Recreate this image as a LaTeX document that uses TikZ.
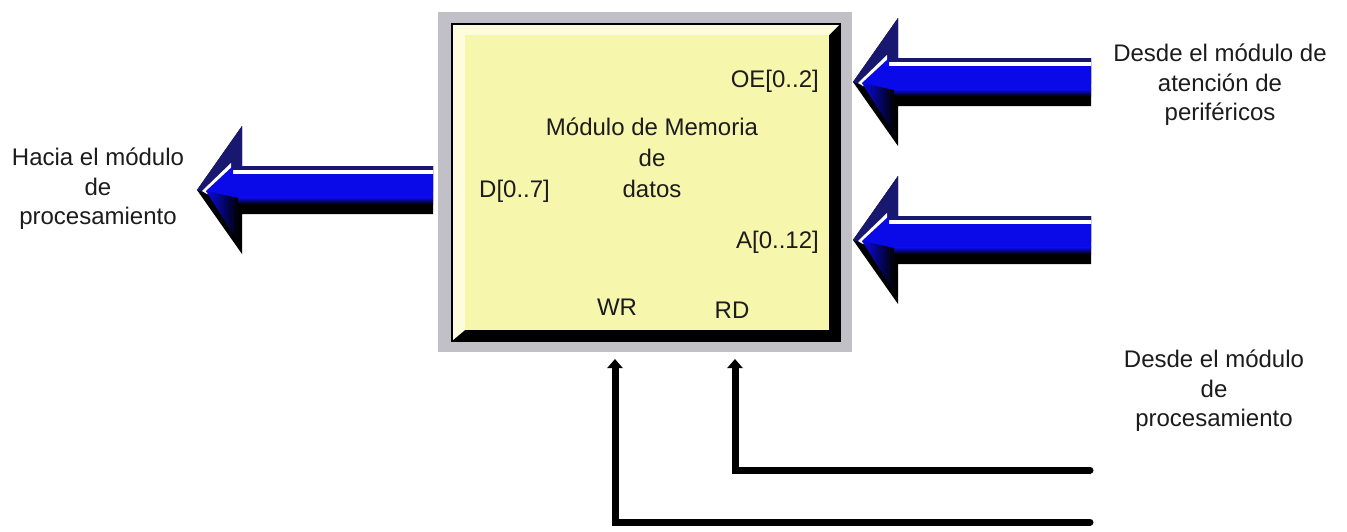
\documentclass[tikz,border=0pt]{standalone}
\usepackage{fontspec}
\setmainfont{Liberation Sans}
\usetikzlibrary{arrows.meta}

\definecolor{framegray}{RGB}{192,192,198}
\definecolor{faceyellow}{RGB}{246,246,172}
\definecolor{bevellight}{RGB}{253,253,222}
\definecolor{busblue}{RGB}{10,10,232}
\definecolor{busnavy}{RGB}{24,24,112}
\definecolor{inktext}{RGB}{28,28,28}

\tikzset{
  lbl/.style={font=\fontsize{24}{29.5}\selectfont, text=inktext, inner sep=0pt, align=center},
  sig/.style={line width=7pt, draw=black, line join=miter, line cap=round,
              -{Triangle[width=15pt,length=9pt]}},
  % wide bus arrow pointing left; tip at the pic origin, #1 = overall length
  pics/busarrow/.style={code={
    \fill[black] (0,0) -- (45,-64) -- (45,-24) -- (#1,-24) -- (#1,24) -- (45,24) -- (45,64) -- cycle;
    \fill[busnavy] (0,0) -- (45,-64) -- (45,-24) -- (#1,-24) -- (#1,2) -- (6,2) -- cycle;
    \fill[white] (5,1) -- (34,-27) -- (34,-20) -- (#1,-20) -- (#1,4) -- (10,4) -- cycle;
    % blue front face
    \fill[busblue] (9,1) -- (36,-24) -- (36,-16) -- (#1,-16) -- (#1,8) -- (41,8) -- (26,24) -- cycle;
    % darkening towards the lower shadow
    \shade[top color=busblue, bottom color=black] (41,7.5) rectangle (#1,14);
    \shade[left color=busblue, right color=black] (9,1) -- (41,8) -- (41,52) -- cycle;
  }}
}

\begin{document}
\begin{tikzpicture}[x=1pt,y=-1pt]
  \fill[white] (0,0) rectangle (1347,531);
  \useasboundingbox (0,0) rectangle (1347,531);

  % memory block: grey frame, black rim, light top/left bevel, yellow face
  \fill[framegray] (438,12) rectangle (852,352);
  \fill[black] (451,23) rectangle (841,342);
  \fill[bevellight] (453,25) -- (839,25) -- (829,35) -- (465,35) -- (465,330) -- (453,340) -- cycle;
  \node[fill=faceyellow, minimum width=364pt, minimum height=295pt, inner sep=0pt] (mem) at (647,182.5) {};

  % texts inside the block
  \node[lbl, anchor=base east] (oe) at (819,87) {OE[0..2]};
  \node[lbl, anchor=base] (t1) at (652,135) {Módulo de Memoria};
  \node[lbl, anchor=base] (t2) at (652,166) {de};
  \node[lbl, anchor=base] (t3) at (652,197) {datos};
  \node[lbl, anchor=base west] (d) at (479,197) {D[0..7]};
  \node[lbl, anchor=base east] (a) at (819,248) {A[0..12]};
  \node[lbl, anchor=base] (wr) at (617,315) {WR};
  \node[lbl, anchor=base] (rd) at (732,318) {RD};

  % outside labels
  \node[lbl] (hacia) at (98,189) {Hacia el módulo\\de\\procesamiento};
  \node[lbl] (perif) at (1220,85) {Desde el módulo de\\atención de\\periféricos};
  \node[lbl] (proc) at (1214,391) {Desde el módulo\\de\\procesamiento};

  % bus arrows
  \pic (busD) at (197,190) {busarrow=236};
  \pic (busOE) at (853,82) {busarrow=238};
  \pic (busA) at (853,240) {busarrow=238};

  % control lines into the block
  \coordinate (rdsrc) at (1090,470);
  \coordinate (wrsrc) at (1090,522);
  \coordinate (rdpin) at (735,359);
  \coordinate (wrpin) at (615,359);
  \draw[sig] (rdsrc) -| (rdpin);
  \draw[sig] (wrsrc) -| (wrpin);
\end{tikzpicture}
\end{document}
